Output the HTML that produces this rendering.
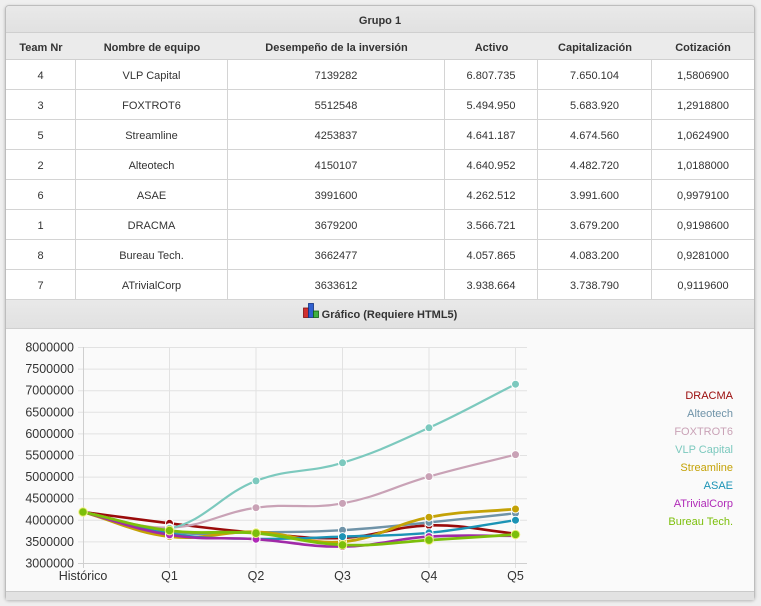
<!DOCTYPE html>
<html>
<head>
<meta charset="utf-8">
<style>
  html,body{margin:0;padding:0;}
  body{width:761px;height:606px;background:#efefef;position:relative;overflow:hidden;
       font-family:"Liberation Sans",Arial,sans-serif;color:#333;}
  .box{position:absolute;left:5px;top:5px;width:748px;height:593px;border:1px solid #bdbdbd;
       border-radius:4px;background:#fafafa;box-shadow:0 1px 3px rgba(0,0,0,0.25);overflow:hidden;}
  .row{position:absolute;left:6px;width:748px;box-sizing:border-box;display:flex;font-size:11px;}
  .row div{box-sizing:border-box;text-align:center;}
  .c1{width:70px}.c2{width:152px}.c3{width:217px}.c4{width:93px}.c5{width:114px}.c6{width:102px}
  .data{height:30px;background:#fff;border-bottom:1px solid #d4d4d4;}
  .data div{line-height:29px;padding-top:2px;border-right:1px solid #d4d4d4;}
  .data div.c6{border-right:none;}
  .hdr{top:33px;height:27px;background:#ebebeb;border-bottom:1px solid #d0d0d0;font-weight:bold;}
  .hdr div{line-height:27px;padding-top:2px;}
  .grp{top:6px;height:27px;background:linear-gradient(#e9e9e9,#e1e1e1);border-bottom:1px solid #cfcfcf;
       font-weight:bold;justify-content:center;line-height:27px;padding-top:2px;border-radius:3px 3px 0 0;}
  .ghdr{top:300px;height:29px;background:linear-gradient(#e9e9e9,#e1e1e1);border-bottom:1px solid #cfcfcf;
        font-weight:bold;justify-content:center;line-height:29px;padding-top:1px;}
  .foot{position:absolute;left:6px;top:591px;width:748px;height:8px;background:#e2e2e2;border-top:1px solid #cacaca;}
  svg{position:absolute;left:0;top:0;}
</style>
</head>
<body>
<div class="box"></div>

<div class="row grp">Grupo 1</div>
<div class="row hdr">
  <div class="c1">Team Nr</div><div class="c2">Nombre de equipo</div><div class="c3">Desempeño de la inversión</div>
  <div class="c4">Activo</div><div class="c5">Capitalización</div><div class="c6">Cotización</div>
</div>

<div class="row data" style="top:60px"><div class="c1">4</div><div class="c2">VLP Capital</div><div class="c3">7139282</div><div class="c4">6.807.735</div><div class="c5">7.650.104</div><div class="c6">1,5806900</div></div>
<div class="row data" style="top:90px"><div class="c1">3</div><div class="c2">FOXTROT6</div><div class="c3">5512548</div><div class="c4">5.494.950</div><div class="c5">5.683.920</div><div class="c6">1,2918800</div></div>
<div class="row data" style="top:120px"><div class="c1">5</div><div class="c2">Streamline</div><div class="c3">4253837</div><div class="c4">4.641.187</div><div class="c5">4.674.560</div><div class="c6">1,0624900</div></div>
<div class="row data" style="top:150px"><div class="c1">2</div><div class="c2">Alteotech</div><div class="c3">4150107</div><div class="c4">4.640.952</div><div class="c5">4.482.720</div><div class="c6">1,0188000</div></div>
<div class="row data" style="top:180px"><div class="c1">6</div><div class="c2">ASAE</div><div class="c3">3991600</div><div class="c4">4.262.512</div><div class="c5">3.991.600</div><div class="c6">0,9979100</div></div>
<div class="row data" style="top:210px"><div class="c1">1</div><div class="c2">DRACMA</div><div class="c3">3679200</div><div class="c4">3.566.721</div><div class="c5">3.679.200</div><div class="c6">0,9198600</div></div>
<div class="row data" style="top:240px"><div class="c1">8</div><div class="c2">Bureau Tech.</div><div class="c3">3662477</div><div class="c4">4.057.865</div><div class="c5">4.083.200</div><div class="c6">0,9281000</div></div>
<div class="row data" style="top:270px"><div class="c1">7</div><div class="c2">ATrivialCorp</div><div class="c3">3633612</div><div class="c4">3.938.664</div><div class="c5">3.738.790</div><div class="c6">0,9119600</div></div>

<div class="row ghdr"><span style="display:inline-block;width:17px;height:15px;vertical-align:-2px;margin-right:2px;">
<svg width="17" height="15" viewBox="0 0 17 15" style="position:static">
  <rect x="0.5" y="5" width="5" height="9.5" fill="#d03030" stroke="#801010" stroke-width="0.8"/>
  <rect x="5.5" y="0.5" width="5" height="14" fill="#3060d0" stroke="#103080" stroke-width="0.8"/>
  <rect x="10.5" y="8" width="5" height="6.5" fill="#40b040" stroke="#106010" stroke-width="0.8"/>
</svg></span>Gráfico (Requiere HTML5)</div>

<div class="foot"></div>

<svg width="761" height="606" viewBox="0 0 761 606">
  <!-- grid -->
  <g stroke="#e2e2e2" stroke-width="1" fill="none">
    <line x1="78" y1="347.5" x2="527" y2="347.5"/>
    <line x1="78" y1="369.1" x2="527" y2="369.1"/>
    <line x1="78" y1="390.7" x2="527" y2="390.7"/>
    <line x1="78" y1="412.3" x2="527" y2="412.3"/>
    <line x1="78" y1="433.9" x2="527" y2="433.9"/>
    <line x1="78" y1="455.5" x2="527" y2="455.5"/>
    <line x1="78" y1="477.1" x2="527" y2="477.1"/>
    <line x1="78" y1="498.7" x2="527" y2="498.7"/>
    <line x1="78" y1="520.3" x2="527" y2="520.3"/>
    <line x1="78" y1="541.9" x2="527" y2="541.9"/>
    <line x1="169.5" y1="347" x2="169.5" y2="568"/>
    <line x1="256" y1="347" x2="256" y2="568"/>
    <line x1="342.5" y1="347" x2="342.5" y2="568"/>
    <line x1="429" y1="347" x2="429" y2="568"/>
    <line x1="515.5" y1="347" x2="515.5" y2="568"/>
  </g>
  <g stroke="#cfcfcf" stroke-width="1">
    <line x1="83.5" y1="347" x2="83.5" y2="568"/>
    <line x1="78" y1="563.5" x2="527" y2="563.5"/>
  </g>
  <!-- y labels -->
  <g font-family="Liberation Sans, Arial, sans-serif" font-size="12.5" fill="#333" text-anchor="end">
    <text x="74" y="351.5">8000000</text>
    <text x="74" y="373.1">7500000</text>
    <text x="74" y="394.7">7000000</text>
    <text x="74" y="416.3">6500000</text>
    <text x="74" y="437.9">6000000</text>
    <text x="74" y="459.5">5500000</text>
    <text x="74" y="481.1">5000000</text>
    <text x="74" y="502.7">4500000</text>
    <text x="74" y="524.3">4000000</text>
    <text x="74" y="545.9">3500000</text>
    <text x="74" y="567.5">3000000</text>
  </g>
  <!-- x labels -->
  <g font-family="Liberation Sans, Arial, sans-serif" font-size="12.5" fill="#333" text-anchor="middle">
    <text x="83" y="580">Histórico</text>
    <text x="169.5" y="580">Q1</text>
    <text x="256" y="580">Q2</text>
    <text x="342.5" y="580">Q3</text>
    <text x="429" y="580">Q4</text>
    <text x="515.5" y="580">Q5</text>
  </g>

  <!-- series -->
  <g fill="none" stroke-linecap="round" stroke-linejoin="round">
    <path stroke="#9a0a0a" stroke-width="2.6" d="M83,512 C117.6,516.5 134.9,519.1 169.5,523.3 C204.1,527.5 221.4,529.9 256,532.8 C290.6,535.7 307.9,539.4 342.5,537.9 C377.1,536.4 394.4,526.3 429,525.4 C463.6,524.5 480.9,530.3 515.5,533.6"/>
    <path stroke="#6f93a8" stroke-width="2.4" d="M83,512 C117.6,520.0 134.9,527.8 169.5,531.9 C204.1,536.0 221.4,532.6 256,532.3 C290.6,532.0 307.9,532.2 342.5,530.2 C377.1,528.2 394.4,525.8 429,522.4 C463.6,519.0 480.9,516.9 515.5,513.3"/>
    <path stroke="#c9a2b6" stroke-width="2.2" d="M83,512 C117.6,518.2 134.9,528.5 169.5,527.6 C204.1,526.7 221.4,512.5 256,507.7 C290.6,502.9 307.9,509.6 342.5,503.4 C377.1,497.2 394.4,486.4 429,476.6 C463.6,466.8 480.9,463.4 515.5,454.6"/>
    <path stroke="#7cc9be" stroke-width="2.2" d="M83,512 C117.6,518.6 134.9,534.6 169.5,528.4 C204.1,522.2 221.4,494.0 256,480.9 C290.6,467.8 307.9,473.4 342.5,462.8 C377.1,452.2 394.4,443.5 429,427.8 C463.6,412.1 480.9,401.6 515.5,384.2"/>
    <path stroke="#c4a206" stroke-width="2.8" d="M83,512 C117.6,521.8 134.9,532.6 169.5,536.6 C204.1,540.6 221.4,530.9 256,531.9 C290.6,532.9 307.9,544.7 342.5,541.8 C377.1,538.9 394.4,523.8 429,517.2 C463.6,510.6 480.9,512.3 515.5,509.0"/>
    <path stroke="#1b93b5" stroke-width="2.4" d="M83,512 C117.6,520.6 134.9,528.2 169.5,533.6 C204.1,539.0 221.4,538.2 256,538.8 C290.6,539.4 307.9,537.8 342.5,536.6 C377.1,535.4 394.4,536.1 429,532.8 C463.6,529.5 480.9,525.2 515.5,520.2"/>
    <path stroke="#a02aa8" stroke-width="2.6" d="M83,512 C117.6,521.2 134.9,529.5 169.5,534.9 C204.1,540.3 221.4,536.9 256,539.2 C290.6,541.5 307.9,547.1 342.5,546.6 C377.1,546.1 394.4,538.8 429,536.6 C463.6,534.4 480.9,536.1 515.5,535.8"/>
    <path stroke="#7cbf0a" stroke-width="2.8" d="M83,512 C117.6,519.4 134.9,526.4 169.5,530.6 C204.1,534.8 221.4,530.3 256,533.2 C290.6,536.1 307.9,543.5 342.5,544.9 C377.1,546.3 394.4,542.2 429,540.1 C463.6,538.0 480.9,536.7 515.5,534.5"/>
  </g>
  <!-- points -->
  <g stroke="#fff" stroke-width="1">
    <g fill="#9a0a0a"><circle cx="83" cy="512" r="4"/><circle cx="169.5" cy="523.3" r="4"/><circle cx="256" cy="532.8" r="4"/><circle cx="342.5" cy="537.9" r="4"/><circle cx="429" cy="525.4" r="4"/><circle cx="515.5" cy="533.6" r="4"/></g>
    <g fill="#6f93a8"><circle cx="83" cy="512" r="4"/><circle cx="169.5" cy="531.9" r="4"/><circle cx="256" cy="532.3" r="4"/><circle cx="342.5" cy="530.2" r="4"/><circle cx="429" cy="522.4" r="4"/><circle cx="515.5" cy="513.3" r="4"/></g>
    <g fill="#c9a2b6"><circle cx="83" cy="512" r="4"/><circle cx="169.5" cy="527.6" r="4"/><circle cx="256" cy="507.7" r="4"/><circle cx="342.5" cy="503.4" r="4"/><circle cx="429" cy="476.6" r="4"/><circle cx="515.5" cy="454.6" r="4"/></g>
    <g fill="#7cc9be"><circle cx="83" cy="512" r="4"/><circle cx="169.5" cy="528.4" r="4"/><circle cx="256" cy="480.9" r="4"/><circle cx="342.5" cy="462.8" r="4"/><circle cx="429" cy="427.8" r="4"/><circle cx="515.5" cy="384.2" r="4"/></g>
    <g fill="#c4a206"><circle cx="83" cy="512" r="4"/><circle cx="169.5" cy="536.6" r="4"/><circle cx="256" cy="531.9" r="4"/><circle cx="342.5" cy="541.8" r="4"/><circle cx="429" cy="517.2" r="4"/><circle cx="515.5" cy="509.0" r="4"/></g>
    <g fill="#1b93b5"><circle cx="83" cy="512" r="4"/><circle cx="169.5" cy="533.6" r="4"/><circle cx="256" cy="538.8" r="4"/><circle cx="342.5" cy="536.6" r="4"/><circle cx="429" cy="532.8" r="4"/><circle cx="515.5" cy="520.2" r="4"/></g>
    <g fill="#b02ab8"><circle cx="83" cy="512" r="4"/><circle cx="169.5" cy="534.9" r="4"/><circle cx="256" cy="539.2" r="4"/><circle cx="342.5" cy="546.6" r="4"/><circle cx="429" cy="536.6" r="4"/><circle cx="515.5" cy="535.8" r="4"/></g>
    <g fill="#7cbf0a" stroke="#f0f080"><circle cx="83" cy="512" r="4.3"/><circle cx="169.5" cy="530.6" r="4.3"/><circle cx="256" cy="533.2" r="4.3"/><circle cx="342.5" cy="544.9" r="4.3"/><circle cx="429" cy="540.1" r="4.3"/><circle cx="515.5" cy="534.5" r="4.3"/></g>
  </g>

  <!-- legend -->
  <g font-family="Liberation Sans, Arial, sans-serif" font-size="11" text-anchor="end">
    <text x="733" y="399" fill="#9a0a0a">DRACMA</text>
    <text x="733" y="417" fill="#6f93a8">Alteotech</text>
    <text x="733" y="435" fill="#c9a2b6">FOXTROT6</text>
    <text x="733" y="453" fill="#7cc9be">VLP Capital</text>
    <text x="733" y="471" fill="#c4a206">Streamline</text>
    <text x="733" y="489" fill="#1b93b5">ASAE</text>
    <text x="733" y="507" fill="#b02ab8">ATrivialCorp</text>
    <text x="733" y="525" fill="#7cbf0a">Bureau Tech.</text>
  </g>
</svg>
</body>
</html>
